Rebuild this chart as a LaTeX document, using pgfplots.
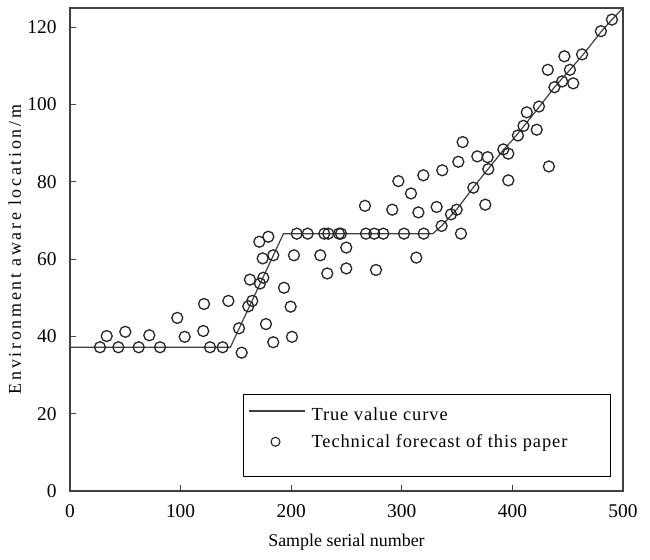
\documentclass[border=0pt]{standalone}
\usepackage{fontspec}
\setmainfont{Liberation Serif}
\usepackage{pgfplots}
\pgfplotsset{compat=1.18}
\pgfplotsset{
  longline legend/.style={legend image code/.code={\draw[##1,line width=1.5bp] (0bp,0bp) -- (56bp,0bp); \path[draw=none] (0bp,0bp) -- (61bp,0bp);}},
  circ legend/.style={legend image code/.code={\draw[##1,mark size=4.5bp,line width=1.1bp] plot coordinates {(27bp,0bp)}; \path[draw=none] (0bp,0bp) -- (61bp,0bp);}},
}
\begin{document}
\begin{tikzpicture}
\begin{axis}[
  scale only axis, width=553bp, height=483bp,
  xmin=0, xmax=500, ymin=0, ymax=125,
  xtick={0,100,...,500}, ytick={0,20,...,120},
  tick align=inside, xtick pos=bottom, ytick pos=left,
  major tick length=6bp,
  axis line style={draw=black!75, line width=1.4bp},
  tick style={draw=black!75, line width=1bp},
  ticklabel style={font=\fontsize{19.5}{21}\selectfont},
  xticklabel style={yshift=-10bp},
  yticklabel style={xshift=-10bp},
  /pgf/number format/assume math mode=true,
  xlabel={Sample serial number},
  ylabel={\addfontfeatures{LetterSpace=15}Environment aware location/m},
  label style={font=\fontsize{18}{20}\selectfont},
  xlabel style={at={(axis description cs:0.5,-0.1056)}, anchor=center},
  ylabel style={at={(axis description cs:-0.1,0.5)}, anchor=center},
  legend style={at={(axis description cs:1,0)}, anchor=south east,
    xshift=-12bp, yshift=14bp, draw=black, line width=1bp,
    font=\fontsize{18.5}{21}\selectfont\addfontfeatures{LetterSpace=5},
    inner xsep=4bp, inner ysep=4bp, row sep=9bp},
  legend cell align=left,
  clip=false,
]
\addplot[draw=black!75, line width=1.2bp, no markers, longline legend]
  coordinates {(0,37.2)(145,37.2)(193,66.6)(328,66.6)(336,68.6)(344.5,71.3)(350,73)(365,78.7)(378,83.3)(392,88.3)(400,90.8)(410,94.3)(424,99.3)(438,104.5)(452,109)(465,113.3)(480,118.8)(490,122)(500,125)};
\addlegendentry{\rule{0pt}{20bp}True value curve}
\addplot[only marks, mark=o, mark size=5.5bp, draw=black!85, line width=1.3bp, circ legend]
  coordinates {
  (27.1,37.2)(33.2,40.1)(43.7,37.2)(50.0,41.2)(62.1,37.2)(71.7,40.3)(81.4,37.2)
  (97.0,44.8)(103.7,39.9)(121.2,48.4)(120.5,41.4)(126.6,37.2)(138.0,37.2)(143.2,49.2)
  (152.8,42.1)(155.2,35.8)(161.2,47.8)(164.8,49.2)(162.7,54.7)(171.8,53.7)(174.8,55.2)
  (174.2,60.2)(171.2,64.5)(179.3,65.8)(183.8,61.0)(177.2,43.2)(183.8,38.5)
  (205,66.6)(214.9,66.6)(229.9,66.6)(233.5,66.6)(243.2,66.6)(245,66.6)(267.6,66.6)
  (275.1,66.6)(283.3,66.6)(302,66.6)(319.8,66.6)
  (193.5,52.6)(199.5,47.7)(200.7,39.9)(202.5,61.0)(226.3,61.0)(232.6,56.3)(249.8,63.0)
  (249.8,57.6)(276.7,57.2)(266.7,73.8)(291.4,72.8)(308.3,77.0)(315,72.1)(331.5,73.5)
  (313.1,60.4)(353.5,66.6)(375.5,74.1)(296.9,80.2)(319.5,81.7)(336.6,83.0)(351.1,85.2)
  (355,90.3)(368.3,86.6)(377.6,86.4)(378.2,83.3)(364.7,78.5)(391.8,88.4)(396.3,87.3)
  (396.3,80.4)(336,68.6)(344.5,71.6)(349.6,72.8)
  (405,92)(410,94.5)(413,98)(422,93.5)(424,99.5)(432,109)(433,84)(438,104.5)
  (445,106)(447,112.5)(452,109)(455,105.5)(463,113)(480,119)(490,122)};
\addlegendentry{\makebox[293bp][l]{Technical forecast of this paper}}
\addlegendimage{empty legend}
\addlegendentry{\rule{0pt}{7bp}}
\path (rel axis cs:0,0) ++(-70bp,-69bp) coordinate (bbA);
\path (rel axis cs:1,1) ++(27bp,8bp) coordinate (bbB);
\end{axis}
\path[use as bounding box] (bbA) rectangle (bbB);
\end{tikzpicture}
\end{document}
